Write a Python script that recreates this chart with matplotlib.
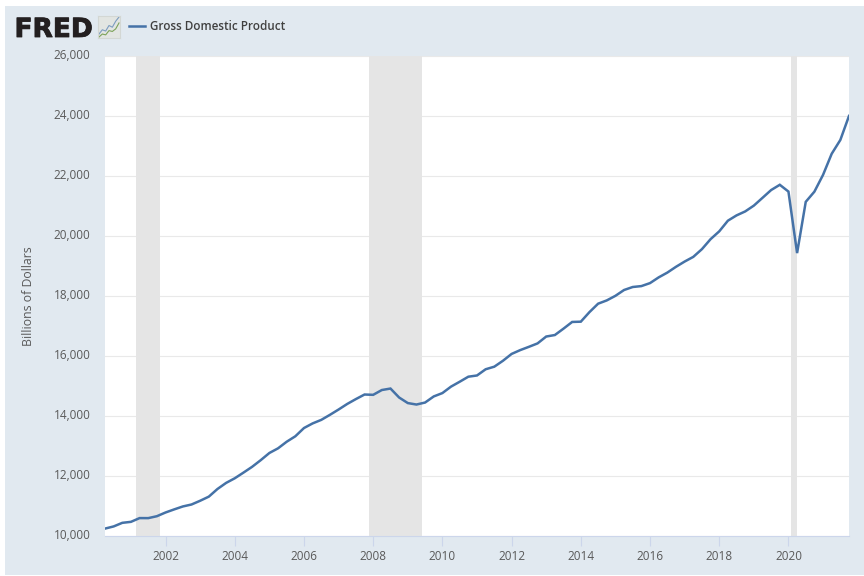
import numpy as np
import matplotlib.pyplot as plt
from matplotlib.patches import Rectangle
from matplotlib.transforms import ScaledTranslation
import matplotlib.patheffects as path_effects

# quarterly, 2000 Q2 to 2021 Q4
gdp = [10247, 10319, 10439,
       10472, 10597, 10596, 10660,
       10784, 10887, 10985, 11050,
       11175, 11312, 11567, 11770,
       11924, 12112, 12305, 12528,
       12767, 12922, 13142, 13324,
       13599, 13753, 13871, 14039,
       14216, 14402, 14564, 14716,
       14706, 14866, 14915, 14616,
       14431, 14382, 14449, 14652,
       14764, 14980, 15142, 15310,
       15351, 15558, 15644, 15841,
       16069, 16197, 16306, 16420,
       16649, 16699, 16912, 17135,
       17144, 17463, 17744, 17853,
       18006, 18200, 18300, 18330,
       18430, 18621, 18780, 18973,
       19148, 19304, 19562, 19895,
       20155, 20510, 20687, 20819,
       21013, 21272, 21532, 21707,
       21481, 19430, 21139, 21478,
       22038, 22741, 23202, 24002]
first_year = 2000.25
recessions = [(2001.15, 2001.833), (2007.89, 2009.417), (2020.083, 2020.25)]
year_ticks = list(range(2002, 2021, 2))
y_ticks = list(range(10000, 26001, 2000))
icon_blue = [1, 2, 1.7, 3, 2.6, 4, 5]
icon_green = [0.3, 1, 0.8, 1.8, 1.6, 2.2, 3.6]

BG = '#e1e9f0'
TEXT = '#595959'
W, H = 864, 576

years = first_year + np.arange(len(gdp)) / 4

plt.rcParams['font.family'] = ['Open Sans', 'DejaVu Sans']
fig = plt.figure(figsize=(8.64, 5.76), dpi=100, facecolor='white')
fig.add_artist(Rectangle((5 / W, 1 / H), 859 / W, 569 / H, transform=fig.transFigure,
                         facecolor=BG, edgecolor='none', zorder=-5))

ax = fig.add_axes([105 / W, 1 - 536 / H, 744 / W, 480 / H])
ax.plot(years, gdp, color='#4572a7', linewidth=1.8, zorder=4, solid_joinstyle='miter')
for start, end in recessions:
    ax.axvspan(start, end, facecolor='#e5e5e5', edgecolor='none', zorder=2)

ax.set_xlim(first_year, years[-1])
ax.set_ylim(10000, 26000)
ax.set_xticks(year_ticks)
ax.set_yticks(y_ticks)
ax.set_yticklabels(['{:,}'.format(v) for v in y_ticks])
ax.grid(axis='y', color='#e9e9e9', linewidth=0.8, zorder=1)
ax.set_axisbelow(True)
for side in ['top', 'right', 'left']:
    ax.spines[side].set_visible(False)
ax.spines['bottom'].set_color('#ccd6eb')
ax.spines['bottom'].set_linewidth(0.8)
ax.tick_params(axis='x', length=7, width=0.8, color='#ccd6eb', labelcolor=TEXT, labelsize=8.5, pad=3)
ax.tick_params(axis='y', length=0, labelcolor=TEXT, labelsize=8.5, pad=10.5)
for label in ax.get_yticklabels():
    label.set_transform(label.get_transform() + ScaledTranslation(0, 2 / 100, fig.dpi_scale_trans))

fig.text(28.5 / W, 1 - 296 / H, 'Billions of Dollars', color=TEXT, fontsize=8.8, rotation=90,
         ha='center', va='center')

# logo
logo = fig.text(14.5 / W, 1 - 37 / H, 'FRED', fontsize=19, fontweight='bold', color='#231f20',
                family='DejaVu Sans', va='baseline')
logo.set_path_effects([path_effects.withStroke(linewidth=0.6, foreground='#231f20')])

icon = fig.add_axes([98 / W, 1 - 38 / H, 22 / W, 22 / H], facecolor='#e2e5e2')
icon.plot(icon_blue, color='#7c9cc0', linewidth=0.8)
icon.plot(icon_green, color='#7da35a', linewidth=0.8)
icon.set_xticks([])
icon.set_yticks([])
for side in icon.spines.values():
    side.set_color('#d3d7d4')

# legend
fig.add_artist(plt.Line2D([129 / W, 145 / W], [1 - 26 / H, 1 - 26 / H], color='#4572a7', linewidth=1.8))
fig.text(149.5 / W, 1 - 26.5 / H, 'Gross Domestic Product', color='#404040', fontsize=8.4,
         fontweight='semibold', va='center')

fig.savefig('out.png', dpi=100, facecolor='white')
